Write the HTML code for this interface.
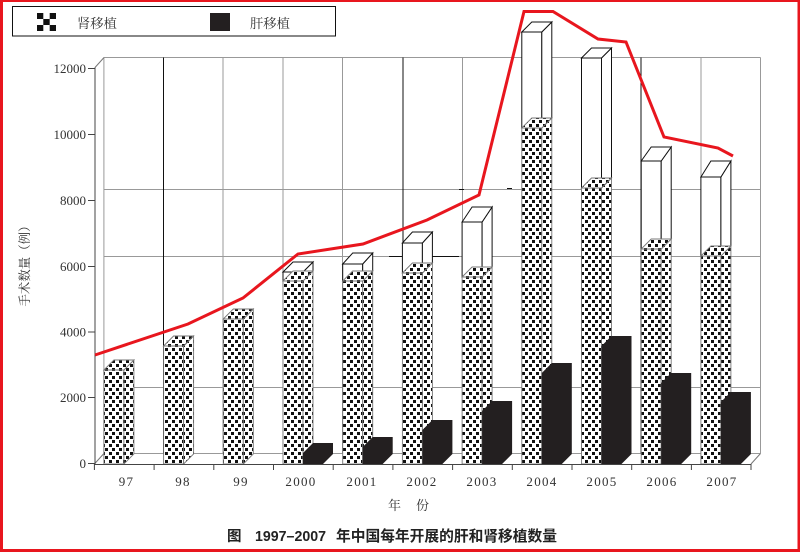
<!DOCTYPE html>
<html><head><meta charset="utf-8"><style>
html,body{margin:0;padding:0;background:#fff;}
svg{display:block;}
</style></head><body>
<svg width="800" height="552" viewBox="0 0 800 552" xmlns="http://www.w3.org/2000/svg">
<defs>
<pattern id="chk" width="7" height="8" patternUnits="userSpaceOnUse">
<rect width="7" height="8" fill="#fff"/>
<rect x="0" y="0" width="3" height="3" fill="#111" shape-rendering="crispEdges"/>
<rect x="4" y="4" width="3" height="3" fill="#111" shape-rendering="crispEdges"/>
</pattern>
</defs>
<rect width="800" height="552" fill="#fff"/>

<!-- legend -->
<rect x="12.5" y="6.5" width="323" height="29.5" fill="#fff" stroke="#111" stroke-width="1"/>
<rect x="37" y="13" width="19" height="18" fill="#fff"/>
<rect x="37" y="13" width="6.3" height="6" fill="#111"/>
<rect x="49.7" y="13" width="6.3" height="6" fill="#111"/>
<rect x="43.3" y="19" width="6.4" height="6" fill="#111"/>
<rect x="37" y="25" width="6.3" height="6" fill="#111"/>
<rect x="49.7" y="25" width="6.3" height="6" fill="#111"/>
<text x="77" y="28" font-family="'Liberation Serif','Noto Serif CJK SC',serif" font-size="13.3" fill="#333">肾移植</text>
<rect x="210" y="13" width="20" height="18" fill="#231f20"/>
<text x="250" y="28" font-family="'Liberation Serif','Noto Serif CJK SC',serif" font-size="13.3" fill="#333">肝移植</text>

<!-- back wall grid -->
<g stroke="#999" stroke-width="1" fill="none">
<line x1="103.9" y1="57.5" x2="760.5" y2="57.5"/>
<line x1="103.9" y1="189.5" x2="760.5" y2="189.5"/>
<line x1="103.9" y1="256.5" x2="760.5" y2="256.5"/>
<line x1="103.9" y1="387.5" x2="760.5" y2="387.5"/>
<line x1="103.9" y1="453.5" x2="760.5" y2="453.5"/>
<line x1="103.9" y1="57.5" x2="103.9" y2="453.5"/>
<line x1="223" y1="57.5" x2="223" y2="453.5"/>
<line x1="283" y1="57.5" x2="283" y2="453.5"/>
<line x1="342.5" y1="57.5" x2="342.5" y2="453.5"/>
<line x1="462.5" y1="57.5" x2="462.5" y2="453.5"/>
<line x1="522" y1="57.5" x2="522" y2="453.5"/>
<line x1="581.5" y1="57.5" x2="581.5" y2="453.5"/>
<line x1="701" y1="57.5" x2="701" y2="453.5"/>
<line x1="760.5" y1="57.5" x2="760.5" y2="453.5"/>
</g>
<g stroke="#111" stroke-width="1">
<line x1="163.5" y1="57.5" x2="163.5" y2="453.5"/>
<line x1="403" y1="57.5" x2="403" y2="453.5"/>
<line x1="641" y1="57.5" x2="641" y2="453.5"/>
<line x1="389" y1="256.5" x2="459" y2="256.5"/>
<line x1="459" y1="189.5" x2="464" y2="189.5"/>
<line x1="507" y1="188.5" x2="512" y2="188.5"/>
</g>

<!-- floor -->
<g stroke="#777" stroke-width="1" fill="none">
<line x1="94.4" y1="464" x2="103.9" y2="453.5"/>
<line x1="751" y1="464" x2="760.5" y2="453.5"/>
<line x1="95" y1="67.5" x2="104" y2="57.5"/>
</g>

<!-- outline boxes -->
<g fill="#fff" stroke="#111" stroke-width="1">
<rect x="283" y="272" width="20" height="9"/><polygon points="303,272 313,262 313,271 303,281"/><polygon points="283,272 293,262 313,262 303,272"/>
<rect x="342.7" y="264" width="20" height="17"/><polygon points="362.7,264 372.7,253 372.7,271 362.7,281"/><polygon points="342.7,264 352.7,253 372.7,253 362.7,264"/>
<rect x="402.4" y="243" width="20" height="30"/><polygon points="422.4,243 432.4,232 432.4,263 422.4,273"/><polygon points="402.4,243 412.4,232 432.4,232 422.4,243"/>
<rect x="462.1" y="222" width="20" height="55"/><polygon points="482.1,222 492.1,207 492.1,267 482.1,277"/><polygon points="462.1,222 472.1,207 492.1,207 482.1,222"/>
<rect x="521.8" y="32" width="20" height="96"/><polygon points="541.8,32 551.8,22 551.8,118 541.8,128"/><polygon points="521.8,32 531.8,22 551.8,22 541.8,32"/>
<rect x="581.5" y="58" width="20" height="130"/><polygon points="601.5,58 611.5,48 611.5,178 601.5,188"/><polygon points="581.5,58 591.5,48 611.5,48 601.5,58"/>
<rect x="641.2" y="161" width="20" height="88"/><polygon points="661.2,161 671.2,147 671.2,239 661.2,249"/><polygon points="641.2,161 651.2,147 671.2,147 661.2,161"/>
<rect x="700.9" y="177" width="20" height="79"/><polygon points="720.9,177 730.9,161 730.9,246 720.9,256"/><polygon points="700.9,177 710.9,161 730.9,161 720.9,177"/>
</g>

<!-- kidney bars -->
<g fill="url(#chk)" stroke="#777" stroke-width="0.9">
<rect x="103.9" y="370" width="20" height="94"/><polygon points="123.9,370 133.9,360 133.9,454 123.9,464"/><polygon points="103.9,370 113.9,360 133.9,360 123.9,370"/>
<rect x="163.6" y="346" width="20" height="118"/><polygon points="183.6,346 193.6,336 193.6,454 183.6,464"/><polygon points="163.6,346 173.6,336 193.6,336 183.6,346"/>
<rect x="223.3" y="319" width="20" height="145"/><polygon points="243.3,319 253.3,309 253.3,454 243.3,464"/><polygon points="223.3,319 233.3,309 253.3,309 243.3,319"/>
<rect x="283" y="281" width="20" height="183"/><polygon points="303,281 313,271 313,454 303,464"/><polygon points="283,281 293,271 313,271 303,281"/>
<rect x="342.7" y="281" width="20" height="183"/><polygon points="362.7,281 372.7,271 372.7,454 362.7,464"/><polygon points="342.7,281 352.7,271 372.7,271 362.7,281"/>
<rect x="402.4" y="273" width="20" height="191"/><polygon points="422.4,273 432.4,263 432.4,454 422.4,464"/><polygon points="402.4,273 412.4,263 432.4,263 422.4,273"/>
<rect x="462.1" y="277" width="20" height="187"/><polygon points="482.1,277 492.1,267 492.1,454 482.1,464"/><polygon points="462.1,277 472.1,267 492.1,267 482.1,277"/>
<rect x="521.8" y="128" width="20" height="336"/><polygon points="541.8,128 551.8,118 551.8,454 541.8,464"/><polygon points="521.8,128 531.8,118 551.8,118 541.8,128"/>
<rect x="581.5" y="188" width="20" height="276"/><polygon points="601.5,188 611.5,178 611.5,454 601.5,464"/><polygon points="581.5,188 591.5,178 611.5,178 601.5,188"/>
<rect x="641.2" y="249" width="20" height="215"/><polygon points="661.2,249 671.2,239 671.2,454 661.2,464"/><polygon points="641.2,249 651.2,239 671.2,239 661.2,249"/>
<rect x="700.9" y="256" width="20" height="208"/><polygon points="720.9,256 730.9,246 730.9,454 720.9,464"/><polygon points="700.9,256 710.9,246 730.9,246 720.9,256"/>
</g>

<!-- liver bars -->
<g fill="#231f20">
<polygon points="303,464 303,453 313,443 333,443 333,454 323,464"/>
<polygon points="362.7,464 362.7,447 372.7,437 392.7,437 392.7,454 382.7,464"/>
<polygon points="422.4,464 422.4,430 432.4,420 452.4,420 452.4,454 442.4,464"/>
<polygon points="482.1,464 482.1,411 492.1,401 512.1,401 512.1,454 502.1,464"/>
<polygon points="541.8,464 541.8,373 551.8,363 571.8,363 571.8,454 561.8,464"/>
<polygon points="601.5,464 601.5,346 611.5,336 631.5,336 631.5,454 621.5,464"/>
<polygon points="661.2,464 661.2,383 671.2,373 691.2,373 691.2,454 681.2,464"/>
<polygon points="720.9,464 720.9,402 730.9,392 750.9,392 750.9,454 740.9,464"/>
</g>

<!-- axes -->
<g stroke="#444" stroke-width="1" fill="none">
<line x1="95" y1="67.5" x2="95" y2="464"/>
<line x1="94.4" y1="464.5" x2="751" y2="464.5"/>
<line x1="88" y1="68.5" x2="95" y2="68.5"/>
<line x1="88" y1="134.5" x2="95" y2="134.5"/>
<line x1="88" y1="200.5" x2="95" y2="200.5"/>
<line x1="88" y1="266.5" x2="95" y2="266.5"/>
<line x1="88" y1="332" x2="95" y2="332"/>
<line x1="88" y1="397.5" x2="95" y2="397.5"/>
<line x1="88" y1="463.5" x2="95" y2="463.5"/>
<line x1="94.4" y1="464" x2="94.4" y2="470"/>
<line x1="154.1" y1="464" x2="154.1" y2="470"/>
<line x1="213.8" y1="464" x2="213.8" y2="470"/>
<line x1="273.5" y1="464" x2="273.5" y2="470"/>
<line x1="333.2" y1="464" x2="333.2" y2="470"/>
<line x1="392.9" y1="464" x2="392.9" y2="470"/>
<line x1="452.6" y1="464" x2="452.6" y2="470"/>
<line x1="512.3" y1="464" x2="512.3" y2="470"/>
<line x1="572" y1="464" x2="572" y2="470"/>
<line x1="631.7" y1="464" x2="631.7" y2="470"/>
<line x1="691.4" y1="464" x2="691.4" y2="470"/>
<line x1="751" y1="464" x2="751" y2="470"/>
</g>

<!-- red line -->
<polyline points="95,355 188,324 243,298 298,254 363,244 427,220 479,195 524,11.5 553,11.5 598,39 626,42 664,137 718,148 733,156" fill="none" stroke="#e8161e" stroke-width="3" stroke-linejoin="miter"/>

<!-- y labels -->
<g font-family="'Liberation Serif',serif" font-size="13" fill="#333" text-anchor="end">
<text x="86" y="73">12000</text>
<text x="86" y="139">10000</text>
<text x="86" y="205">8000</text>
<text x="86" y="271">6000</text>
<text x="86" y="336.5">4000</text>
<text x="86" y="402">2000</text>
<text x="86" y="468">0</text>
</g>

<!-- x labels -->
<g font-family="'Liberation Serif',serif" font-size="13" fill="#333" text-anchor="middle" letter-spacing="1.3">
<text x="126.5" y="486">97</text>
<text x="183" y="486">98</text>
<text x="241" y="486">99</text>
<text x="301" y="486">2000</text>
<text x="362" y="486">2001</text>
<text x="422" y="486">2002</text>
<text x="482" y="486">2003</text>
<text x="542" y="486">2004</text>
<text x="602" y="486">2005</text>
<text x="662" y="486">2006</text>
<text x="722" y="486">2007</text>
</g>

<text x="388" y="510" font-family="'Liberation Serif','Noto Serif CJK SC',serif" font-size="13" fill="#333">年</text>
<text x="416" y="510" font-family="'Liberation Serif','Noto Serif CJK SC',serif" font-size="13" fill="#333">份</text>

<text transform="translate(29,263) rotate(-90)" text-anchor="middle" font-family="'Liberation Serif','Noto Serif CJK SC',serif" font-size="12.5" fill="#333" textLength="87" lengthAdjust="spacingAndGlyphs">手术数量（例）</text>

<text x="227" y="541" font-family="'Liberation Sans','Noto Sans CJK SC',sans-serif" font-size="14.5" font-weight="bold" fill="#222">图</text>
<text x="255" y="541" font-family="'Liberation Sans','Noto Sans CJK SC',sans-serif" font-size="14.5" font-weight="bold" fill="#222" textLength="71" lengthAdjust="spacingAndGlyphs">1997–2007</text>
<text x="336" y="541" font-family="'Liberation Sans','Noto Sans CJK SC',sans-serif" font-size="14.7" font-weight="bold" fill="#222" textLength="221" lengthAdjust="spacingAndGlyphs">年中国每年开展的肝和肾移植数量</text>

<!-- red frame -->
<rect x="0" y="0" width="800" height="2" fill="#e8161e"/>
<rect x="0" y="549" width="800" height="3" fill="#e8161e"/>
<rect x="0" y="0" width="3" height="552" fill="#e8161e"/>
<rect x="797.5" y="0" width="2.5" height="552" fill="#e8161e"/>
</svg>
</body></html>
